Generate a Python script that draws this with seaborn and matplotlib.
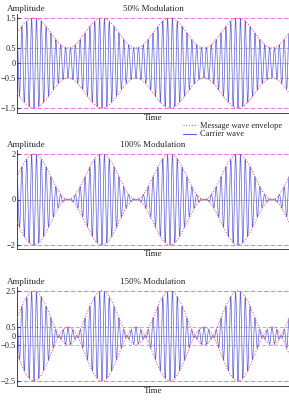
import numpy as np
import pandas as pd
import matplotlib
matplotlib.use("Agg")
import matplotlib.pyplot as plt
from matplotlib.lines import Line2D
import seaborn as sns

# ---- chart content ----
titles = ["50% Modulation", "100% Modulation", "150% Modulation"]
mod_index = [0.5, 1.0, 1.5]
ytick_values = [[-1.5, -0.5, 0, 0.5, 1.5], [-2, 0, 2], [-2.5, -0.5, 0, 0.5, 2.5]]
ytick_labels = [["\u22121.5", "\u22120.5", "0", "0.5", "1.5"],
                ["\u22122", "0", "2"],
                ["\u22122.5", "\u22120.5", "0", "0.5", "2.5"]]
peak_lines = [[-1.5, 1.5], [-2, 2], [-2.5, 2.5]]
trough_lines = [[-0.5, 0.5], [], [-0.5, 0.5]]
message_periods = 4
carrier_per_message = 14
x_label = "Time"
y_label = "Amplitude"
legend_labels = ["Message wave envelope", "Carrier wave"]

sns.set_style("white")
plt.rcParams["font.family"] = ["Liberation Serif", "DejaVu Serif"]

W, H = 289, 400
fig = plt.figure(figsize=(W / 100, H / 100), dpi=100)

# panel placement in pixels (top, bottom) of the plot area
panel_px = [(14, 113), (150, 249), (287, 386)]
ylims = [(-1.667, 1.633), (-2.176, 2.176), (-2.78, 2.72)]
left_px = 17

t = np.linspace(0, message_periods, 6000)
carrier_col = "#5c5cdc"
env_col = "#e8607a"
peak_col = "#ee77ee"
trough_col = "#b0b0d0"

for i, m in enumerate(mod_index):
    top, bot = panel_px[i]
    ax = fig.add_axes([left_px / W, 1 - bot / H, 1 - left_px / W, (bot - top) / H])
    env = 1 + m * np.sin(2 * np.pi * t)
    sig = env * np.cos(2 * np.pi * carrier_per_message * t)
    df = pd.DataFrame({"t": t, "sig": sig, "up": env, "lo": -env})

    # reference lines
    ax.axhline(0, color="#b8b8c8", lw=0.7, zorder=0)
    for v in trough_lines[i]:
        ax.axhline(v, color=trough_col, lw=0.7, ls=(0, (4, 2)), zorder=0)
    for v in peak_lines[i]:
        ax.axhline(v, color=peak_col, lw=0.8, ls=(0, (4, 2)), zorder=0)

    sns.lineplot(data=df, x="t", y="sig", ax=ax, color=carrier_col, lw=0.5,
                 estimator=None, sort=False, zorder=2)
    sns.lineplot(data=df, x="t", y="up", ax=ax, color=env_col, lw=0.8,
                 ls=(0, (1, 1.5)), estimator=None, sort=False, zorder=3)
    sns.lineplot(data=df, x="t", y="lo", ax=ax, color=env_col, lw=0.8,
                 ls=(0, (1, 1.5)), estimator=None, sort=False, zorder=3)

    ax.set_xlim(0, message_periods)
    ax.set_ylim(*ylims[i])
    ax.set_xticks([])
    ax.set_yticks(ytick_values[i])
    ax.set_yticklabels(ytick_labels[i])
    ax.tick_params(axis="y", length=2, width=0.6, pad=0.8, labelsize=6,
                   direction="in", left=True, colors="#222222")
    for s in ["top", "right"]:
        ax.spines[s].set_visible(False)
    for s in ["left", "bottom"]:
        ax.spines[s].set_color("#444444")
        ax.spines[s].set_linewidth(0.7)
    ax.set_ylabel("")
    ax.set_xlabel(x_label, fontsize=6.5, labelpad=1)
    ax.set_title(titles[i], fontsize=6.5, pad=2.5)
    fig.text(7 / W, 1 - (top - 3) / H, y_label, fontsize=6.5, ha="left", va="baseline")

handles = [Line2D([], [], color=env_col, lw=0.8, ls=(0, (1, 1.5))),
           Line2D([], [], color=carrier_col, lw=0.8)]
fig.legend(handles, legend_labels, loc="upper left",
           bbox_to_anchor=(183 / W, 1 - 122 / H), frameon=False, fontsize=6,
           handlelength=1.6, handletextpad=0.5, labelspacing=0.05,
           borderpad=0, borderaxespad=0)

fig.savefig("out.png", dpi=100)
